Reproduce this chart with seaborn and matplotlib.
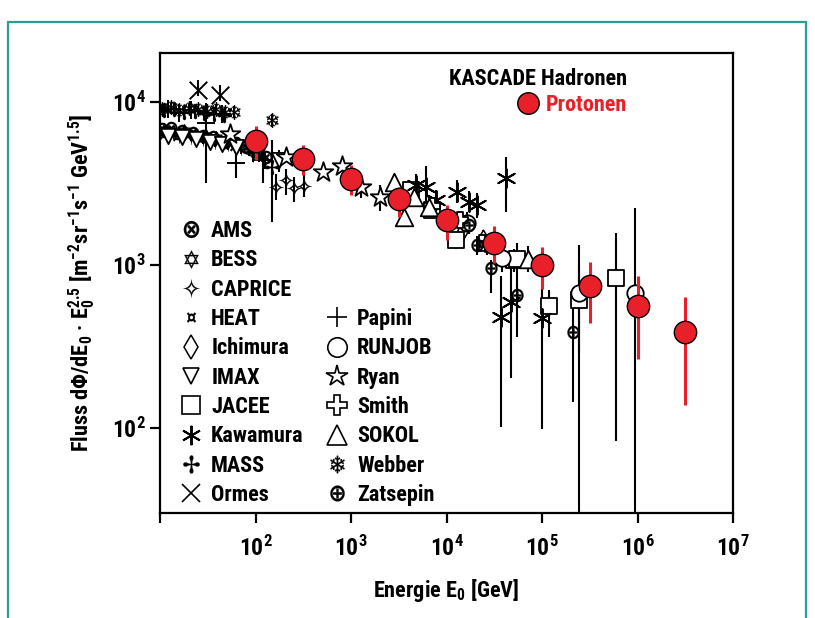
import numpy as np
import matplotlib
matplotlib.use("Agg")
import matplotlib.pyplot as plt
import seaborn as sns
from matplotlib import font_manager as fm
from matplotlib.path import Path
from matplotlib.textpath import TextPath
from matplotlib.lines import Line2D
from matplotlib.patches import Rectangle
from matplotlib.ticker import FixedLocator, FixedFormatter, NullLocator

# ---------------------------------------------------------------- data
# energy E0 in GeV, flux dPhi/dE0 * E0^2.5 in m^-2 sr^-1 s^-1 GeV^1.5

kascade_e = [100, 316, 1000, 3160, 10000, 31600, 100000, 316000, 1000000, 3160000]
kascade_f = [5770, 4470, 3375, 2540, 1890, 1365, 1000, 743, 560, 388]
kascade_lo = [4410, 3565, 2690, 1980, 1423, 1029, 713, 438, 264, 138]
kascade_hi = [7130, 5450, 4100, 3020, 2335, 1734, 1288, 1047, 857, 640]

ams_e = [10.5, 13, 17, 22, 28, 36, 48, 62, 80, 100, 130]
ams_f = [6800, 6900, 6600, 6500, 6200, 6100, 5700, 5600, 5300, 5000, 4600]

bess_e = [11, 14, 18, 23, 30, 39, 50, 65, 85, 110]
bess_f = [6700, 6500, 6600, 6300, 6200, 6000, 5800, 5500, 5200, 4900]
bess_lo = [6300, 6100, 6150, 5850, 5750, 5500, 5300, 5000, 4650, 4300]
bess_hi = [7100, 6900, 7050, 6750, 6650, 6500, 6300, 6000, 5750, 5500]

caprice_e = [12, 16, 21, 28, 38, 52, 70, 95, 125, 165, 210, 250, 320]
caprice_f = [6500, 6300, 6200, 6000, 5800, 5600, 5300, 4800, 4400, 3020, 3320, 2950, 3060]
caprice_lo = [6100, 5900, 5750, 5550, 5300, 5100, 4800, 4300, 3900, 2500, 2700, 2450, 2600]
caprice_hi = [6900, 6700, 6650, 6450, 6300, 6100, 5800, 5300, 4900, 3600, 3900, 3450, 3550]

heat_e = [11, 15, 20, 27, 35, 45, 60]
heat_f = [6400, 6200, 6400, 6000, 5800, 5900, 5400]

ichimura_e = [15000, 24000]
ichimura_f = [1650, 1450]
ichimura_lo = [1450, 1250]
ichimura_hi = [1850, 1650]

imax_e = [12, 17, 24, 33, 45, 62, 106, 178]
imax_f = [6200, 6100, 5900, 5700, 5500, 5300, 5370, 4400]
imax_lo = [5800, 5700, 5450, 5200, 5000, 4750, 4700, 3700]
imax_hi = [6600, 6500, 6350, 6200, 6000, 5850, 6050, 5100]

jacee_e = [4240, 7130, 12500, 26700, 50800, 55000, 117800, 245000, 600000]
jacee_f = [2885, 2170, 1423, 1360, 1071, 1083, 560, 610, 828]
jacee_lo = [2600, 1950, 1250, 1150, 900, 362, 362, 290, 83]
jacee_hi = [3150, 2400, 1600, 1550, 1250, 1366, 703, 985, 1565]

kawamura_e = [4800, 6080, 7730, 13000, 17200, 20900, 41700, 36900, 46900, 100000]
kawamura_f = [3100, 3020, 2510, 2820, 2440, 2330, 3400, 478, 596, 471]
kawamura_lo = [2600, 2150, 2200, 2400, 2100, 1950, 2120, 101, 203, 98]
kawamura_hi = [3600, 4050, 2900, 3300, 2850, 2750, 4630, 850, 1230, 754]

mass_e = [11, 14, 18, 23, 29, 37, 47, 148]
mass_f = [8900, 9000, 8700, 8800, 8600, 8500, 8300, 4000]
mass_lo = [8300, 8400, 8100, 8200, 8000, 7900, 7600, 1840]
mass_hi = [9500, 9600, 9300, 9400, 9200, 9100, 9000, 5850]

ormes_e = [25, 43]
ormes_f = [11850, 11040]
ormes_lo = [10900, 10200]
ormes_hi = [13700, 12800]

papini_e = [12, 16, 21, 30, 45, 62, 120]
papini_f = [9000, 8600, 8900, 7430, 8400, 4230, 4400]
papini_lo = [8400, 8000, 8300, 3190, 7700, 3410, 3170]
papini_hi = [9600, 9200, 9500, 9870, 9100, 5080, 6130]

runjob_e = [16500, 38400, 245000, 946000]
runjob_f = [1803, 1110, 670, 670]
runjob_lo = [1550, 900, 20, 20]
runjob_hi = [2100, 1300, 1330, 2240]

ryan_e = [54, 210, 515, 800, 1270, 2030]
ryan_f = [6370, 4620, 3730, 4050, 3000, 2600]
ryan_lo = [5900, 4300, 3450, 3800, 2560, 2130]
ryan_hi = [6850, 4950, 4000, 4300, 3240, 3090]

smith_e = [7000, 14000, 27000]
smith_f = [2300, 1900, 1350]

sokol_e = [2840, 3600, 4590, 6570, 71000]
sokol_f = [3250, 1980, 2630, 2280, 1080]
sokol_lo = [2900, 1750, 2350, 2000, 900]
sokol_hi = [3600, 2250, 2950, 2600, 1300]

webber_e = [10.5, 13, 16, 20, 25, 31, 39, 48, 60, 148]
webber_f = [9100, 9300, 8900, 9200, 9000, 8800, 9100, 8700, 8700, 7750]
webber_lo = [8600, 8800, 8400, 8700, 8500, 8300, 8500, 8100, 8000, 7000]
webber_hi = [9600, 9800, 9400, 9700, 9500, 9300, 9700, 9300, 9400, 8500]

zatsepin_e = [10600, 17200, 20900, 29000, 55000, 209000]
zatsepin_f = [2000, 1758, 1327, 955, 655, 389]
zatsepin_lo = [1800, 1550, 1150, 675, 560, 145]
zatsepin_hi = [2200, 1950, 1500, 1072, 760, 703]

x_ticks = [1e1, 1e2, 1e3, 1e4, 1e5, 1e6, 1e7]
x_ticklabels = ["", "$10^{2}$", "$10^{3}$", "$10^{4}$", "$10^{5}$", "$10^{6}$", "$10^{7}$"]
y_ticks = [1e2, 1e3, 1e4]
y_ticklabels = ["$10^{2}$", "$10^{3}$", "$10^{4}$"]

# ---------------------------------------------------------------- style
sns.set_theme(style="ticks")
installed = {f.name for f in fm.fontManager.ttflist}
narrow = next((n for n in ["Liberation Sans Narrow", "Roboto Condensed",
                           "DejaVu Sans Condensed"] if n in installed), "DejaVu Sans")
plt.rcParams.update({
    "font.family": [narrow, "DejaVu Sans"],
    "font.weight": "bold",
    "font.stretch": "condensed",
    "axes.labelweight": "bold",
    "mathtext.default": "regular",
    "axes.linewidth": 1.6,
    "axes.edgecolor": "black",
    "text.color": "black",
    "axes.labelcolor": "black",
    "xtick.color": "black",
    "ytick.color": "black",
})

RED = "#e8202a"
TEAL = "#26a095"
FS = 16


def glyph(ch):
    """Centered outline of a single DejaVu glyph, usable as a marker."""
    tp = TextPath((0, 0), ch, size=10, prop=fm.FontProperties(family="DejaVu Sans"))
    ext = tp.get_extents()
    v = tp.vertices - [(ext.x0 + ext.x1) / 2, (ext.y0 + ext.y1) / 2]
    return Path(v, tp.codes)


M_AMS = glyph("\u2297")
M_BESS = glyph("\u2721")
M_CAPRICE = glyph("\u2727")
M_HEAT = glyph("\u00a4")
M_MASS = glyph("\u2722")
M_WEBBER = glyph("\u2744")
M_ZATSEPIN = glyph("\u2295")
M_KAWA = (6, 2, 0)

fig = plt.figure(figsize=(8.15, 6.18), dpi=100)
fig.add_artist(Rectangle((8 / 815, -0.05), (806 - 8) / 815, 1 - 22 / 618 + 0.05,
                         transform=fig.transFigure, fill=False,
                         edgecolor=TEAL, lw=1.6, clip_on=False))
ax = fig.add_axes([160 / 815, 1 - 513 / 618, 573 / 815, 460 / 618])
ax.set_xscale("log")
ax.set_yscale("log")


def bars(e, lo, hi, color="black", lw=1.5, z=2):
    ax.vlines(e, lo, hi, color=color, lw=lw, zorder=z)


def glyph_pts(e, f, m, s=120):
    sns.scatterplot(x=e, y=f, marker=m, s=s, color="black", edgecolor="black",
                    linewidth=0.2, ax=ax, zorder=3)


def open_pts(e, f, m, s=120, lw=1.3):
    sns.scatterplot(x=e, y=f, marker=m, s=s, facecolor="white", edgecolor="black",
                    linewidth=lw, ax=ax, zorder=3)


def line_pts(e, f, m, s=120):
    sns.scatterplot(x=e, y=f, marker=m, s=s, color="black", linewidth=1.4,
                    ax=ax, zorder=3)


# error bars of the direct and emulsion measurements
for e, lo, hi in [(bess_e, bess_lo, bess_hi), (caprice_e, caprice_lo, caprice_hi),
                  (ichimura_e, ichimura_lo, ichimura_hi), (imax_e, imax_lo, imax_hi),
                  (jacee_e, jacee_lo, jacee_hi), (kawamura_e, kawamura_lo, kawamura_hi),
                  (mass_e, mass_lo, mass_hi), (ormes_e, ormes_lo, ormes_hi),
                  (papini_e, papini_lo, papini_hi), (runjob_e, runjob_lo, runjob_hi),
                  (ryan_e, ryan_lo, ryan_hi), (sokol_e, sokol_lo, sokol_hi),
                  (webber_e, webber_lo, webber_hi), (zatsepin_e, zatsepin_lo, zatsepin_hi)]:
    bars(e, lo, hi)

glyph_pts(ams_e, ams_f, M_AMS)
glyph_pts(bess_e, bess_f, M_BESS)
glyph_pts(caprice_e, caprice_f, M_CAPRICE, s=140)
glyph_pts(heat_e, heat_f, M_HEAT, s=60)
open_pts(ichimura_e, ichimura_f, "d", s=90, lw=1.1)
open_pts(imax_e, imax_f, "v")
open_pts(jacee_e, jacee_f, "s", s=140)
line_pts(kawamura_e, kawamura_f, M_KAWA, s=180)
glyph_pts(mass_e, mass_f, M_MASS)
line_pts(ormes_e, ormes_f, "x", s=160)
line_pts(papini_e, papini_f, "+", s=160)
open_pts(runjob_e, runjob_f, "o", s=140)
open_pts(ryan_e, ryan_f, "*", s=220)
open_pts(smith_e, smith_f, "P", s=140)
open_pts(sokol_e, sokol_f, "^", s=160)
glyph_pts(webber_e, webber_f, M_WEBBER)
glyph_pts(zatsepin_e, zatsepin_f, M_ZATSEPIN)

# KASCADE protons
bars(kascade_e, kascade_lo, kascade_hi, color=RED, lw=2.2, z=4)
sns.scatterplot(x=kascade_e, y=kascade_f, s=260, color=RED, edgecolor="black",
                linewidth=1.0, ax=ax, zorder=5)

# ---------------------------------------------------------------- axes
ax.set_xlim(1e1, 1e7)
ax.set_ylim(30, 2e4)
ax.xaxis.set_major_locator(FixedLocator(x_ticks))
ax.xaxis.set_major_formatter(FixedFormatter(x_ticklabels))
ax.yaxis.set_major_locator(FixedLocator(y_ticks))
ax.yaxis.set_major_formatter(FixedFormatter(y_ticklabels))
ax.xaxis.set_minor_locator(NullLocator())
ax.yaxis.set_minor_locator(NullLocator())
ax.tick_params(axis="both", which="major", direction="out", length=7, width=1.6,
               labelsize=17)
ax.tick_params(axis="x", pad=9)
ax.tick_params(axis="y", pad=3)
for sp in ax.spines.values():
    sp.set_linewidth(1.6)

ax.set_xlabel("Energie E$_0$ [GeV]", fontsize=FS, labelpad=12)
ax.set_ylabel("Fluss d\u03a6/dE$_0$ \u00b7 E$_0^{2.5}$ [m$^{-2}$sr$^{-1}$s$^{-1}$ GeV$^{1.5}$]",
              fontsize=FS, labelpad=10)

# ---------------------------------------------------------------- legends
def h(marker, ms=10, fill="black", lw=1.2):
    return Line2D([], [], linestyle="none", marker=marker, markersize=ms,
                  markerfacecolor=fill, markeredgecolor="black", markeredgewidth=lw)


blank = Line2D([], [], linestyle="none", marker="none")
handles = [h(M_AMS, 14, lw=0.2), h(M_BESS, 13, lw=0.2), h(M_CAPRICE, 13, lw=0.2),
           h(M_HEAT, 8, lw=0.2), h("d", 12, "none", 1.1), h("v", 11, "none"),
           h("s", 13, "none"), h(M_KAWA, 14, lw=1.4), h(M_MASS, 13, lw=0.2),
           h("x", 13, lw=1.2),
           blank, blank, blank,
           h("+", 15, lw=1.2), h("o", 14, "none"), h("*", 16, "none"),
           h("P", 14, "none"), h("^", 14, "none"), h(M_WEBBER, 13, lw=0.2),
           h(M_ZATSEPIN, 13, lw=0.2)]
labels = ["AMS", "BESS", "CAPRICE", "HEAT", "Ichimura", "IMAX", "JACEE", "Kawamura",
          "MASS", "Ormes", "", "", "", "Papini", "RUNJOB", "Ryan", "Smith", "SOKOL",
          "Webber", "Zatsepin"]
leg1 = ax.legend(handles, labels, ncol=2, loc="upper left",
                 bbox_to_anchor=(0.035, 0.637), frameon=False, fontsize=FS,
                 handlelength=1.0, handletextpad=0.4, labelspacing=0.33,
                 columnspacing=1.0, borderpad=0, borderaxespad=0)

leg2 = ax.legend([h("o", 15.5, RED, 1.0)], ["Protonen"], loc="upper right",
                 bbox_to_anchor=(0.815, 0.968), frameon=False, fontsize=FS,
                 title="KASCADE Hadronen", title_fontsize=FS, alignment="right",
                 handlelength=1.0, handletextpad=0.3, labelspacing=0.2,
                 borderpad=0, borderaxespad=0)
for t in leg2.get_texts():
    t.set_color(RED)
ax.add_artist(leg1)

fig.savefig("out.png", dpi=100)
